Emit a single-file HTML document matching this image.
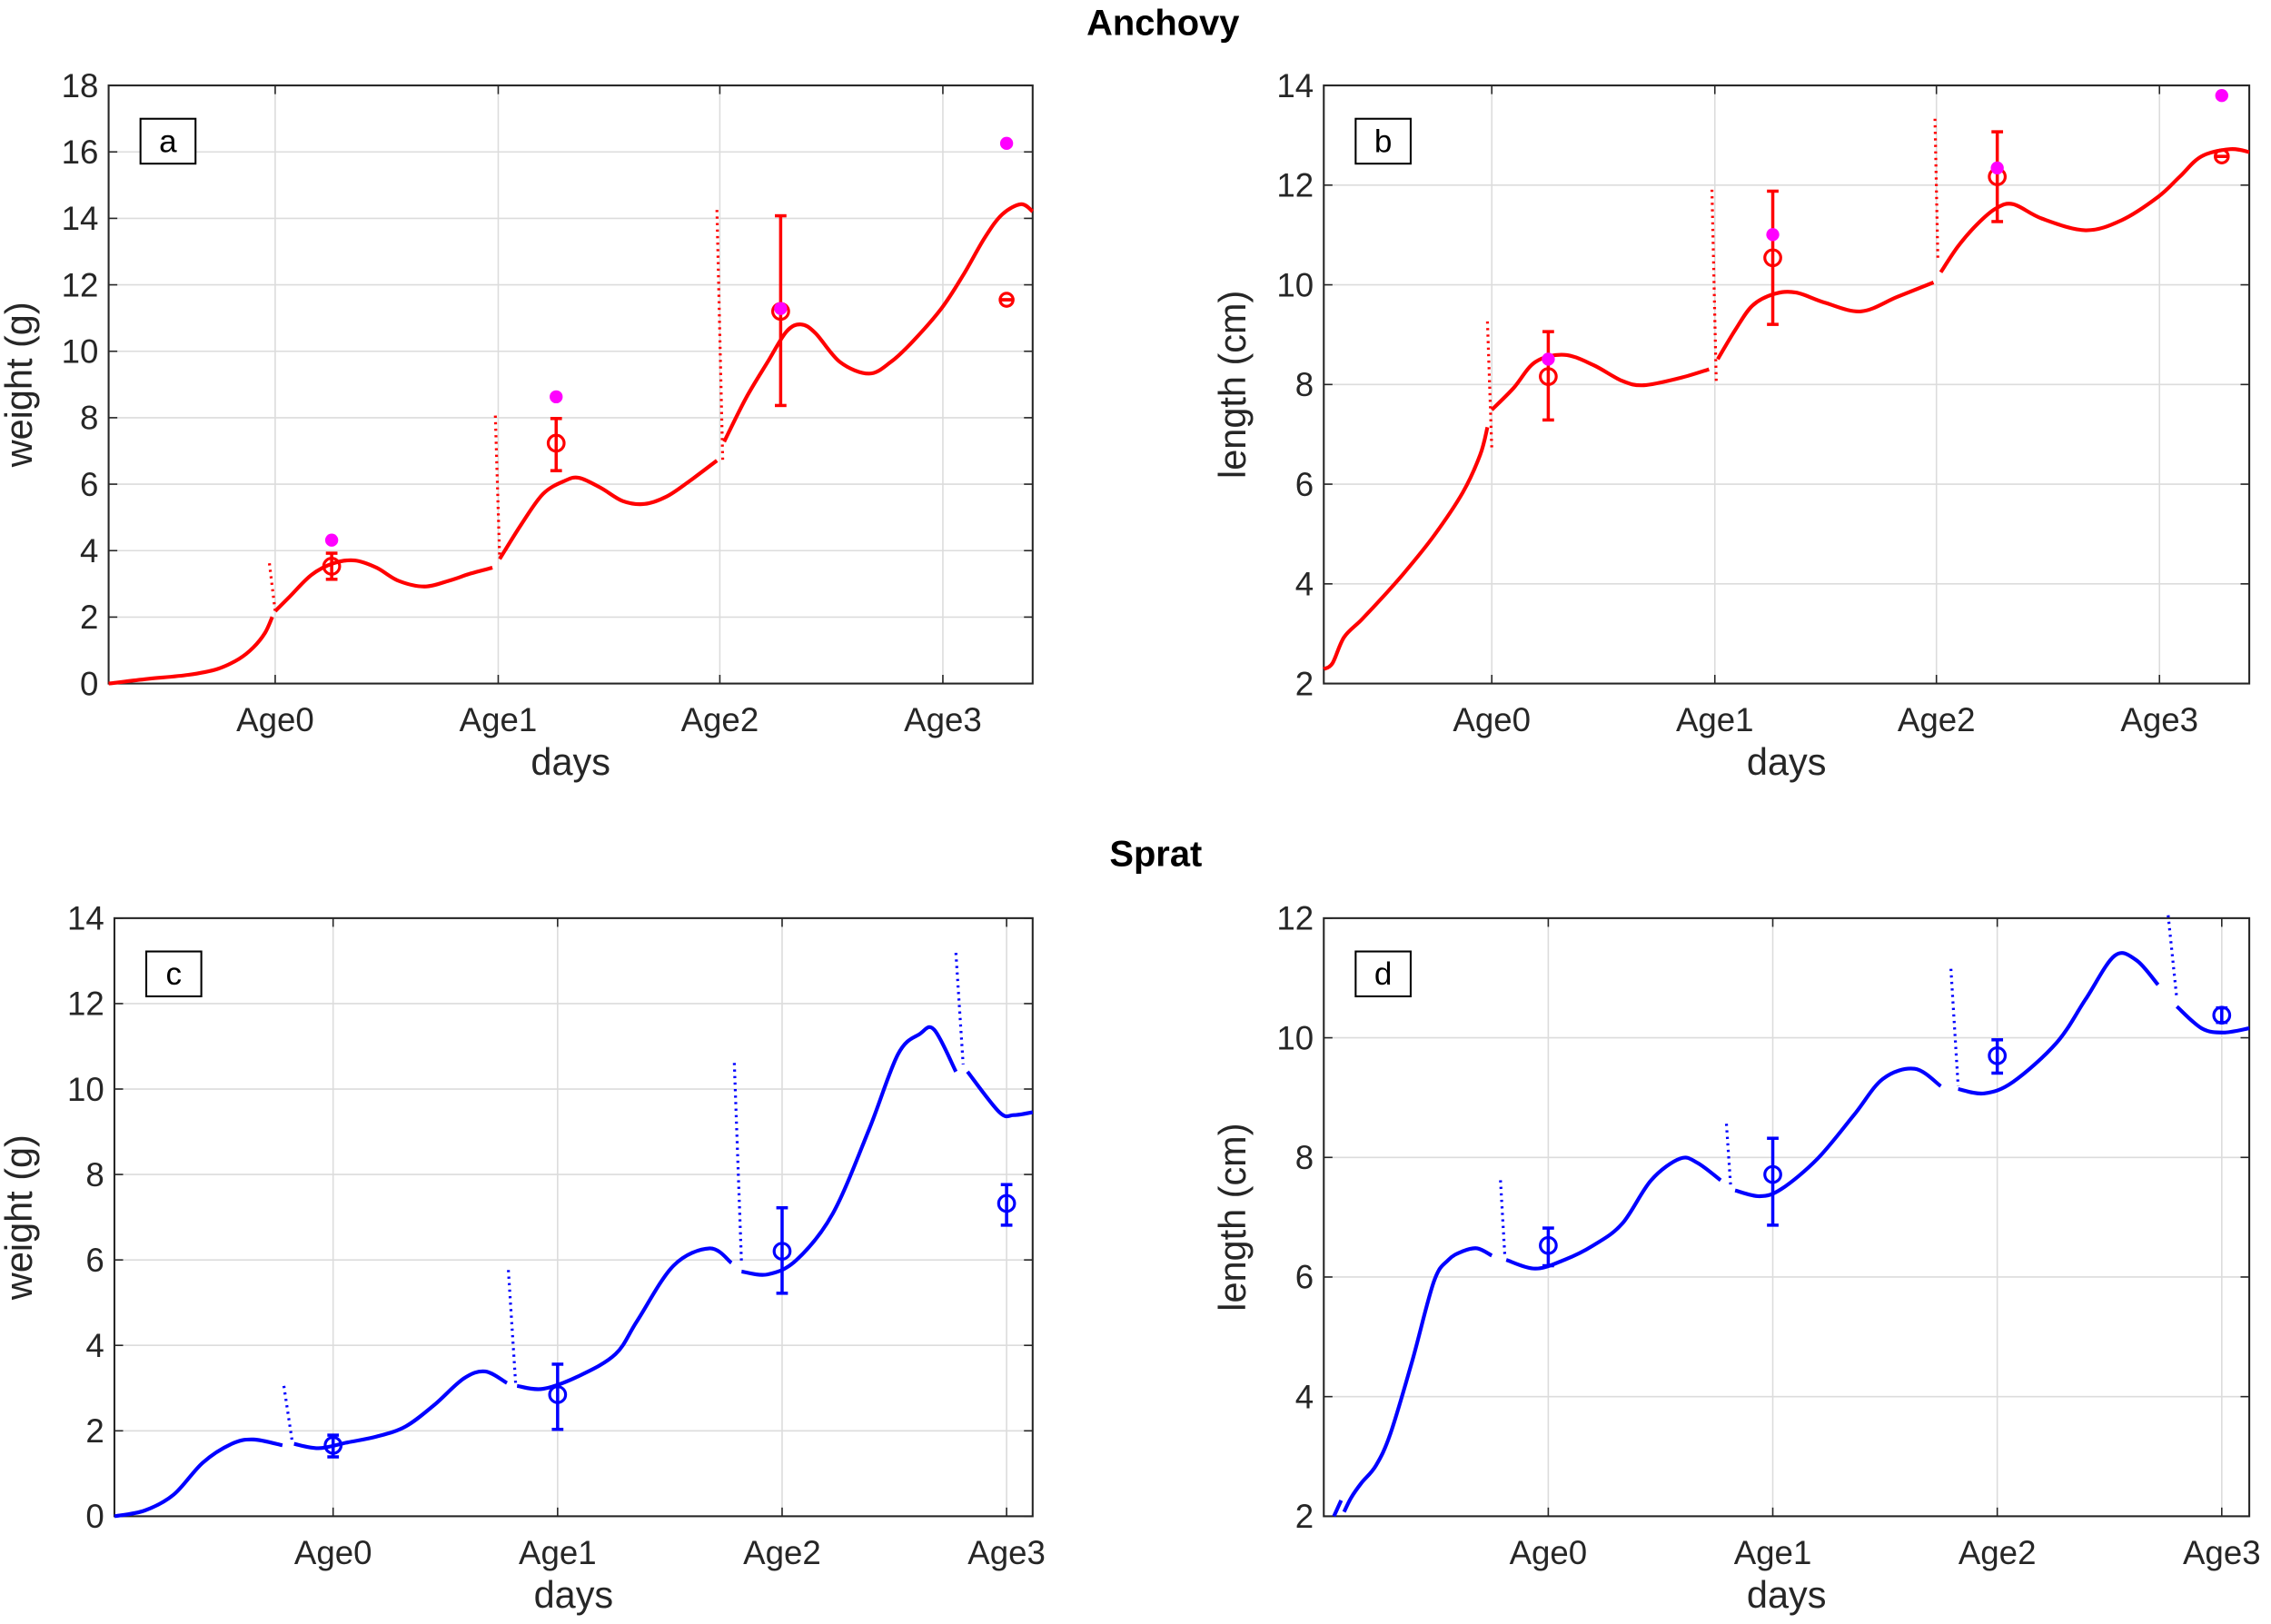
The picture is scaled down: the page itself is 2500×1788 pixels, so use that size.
<!DOCTYPE html>
<html><head><meta charset="utf-8"><style>
html,body{margin:0;padding:0;background:#fff;width:2500px;height:1788px;overflow:hidden}
svg{display:block}
text{font-family:"Liberation Sans",sans-serif;fill:#262626}
</style></head><body>
<svg id="s" width="2500" height="1788" viewBox="0 0 1568 1121.4" preserveAspectRatio="none" xmlns="http://www.w3.org/2000/svg"></svg>
<script>
const s=document.getElementById('s');let h='';
function P(o){
 const {x0,x1,y0,y1,vmin,vmax,step,ages,lab,yl,ylx}=o;
 for(let v=vmin;v<=vmax+1e-9;v+=step){const y=y1-(v-vmin)/(vmax-vmin)*(y1-y0);
  h+=`<line x1="${x0}" x2="${x1}" y1="${y}" y2="${y}" stroke="#dcdcdc" stroke-width="1"/>`;
  h+=`<line x1="${x0}" x2="${x0+6}" y1="${y}" y2="${y}" stroke="#262626"/><line x1="${x1}" x2="${x1-6}" y1="${y}" y2="${y}" stroke="#262626"/>`;
  h+=`<text x="${x0-7}" y="${y+8}" font-size="23" text-anchor="end">${v}</text>`;}
 ages.forEach((a,i)=>{h+=`<line x1="${a}" x2="${a}" y1="${y0}" y2="${y1}" stroke="#dcdcdc"/>`;
  h+=`<line x1="${a}" x2="${a}" y1="${y1}" y2="${y1-6}" stroke="#262626"/><line x1="${a}" x2="${a}" y1="${y0}" y2="${y0+6}" stroke="#262626"/>`;
  h+=`<text x="${a}" y="${y1+33}" font-size="23" text-anchor="middle">Age${i}</text>`;});
 h+=`<rect x="${x0}" y="${y0}" width="${x1-x0}" height="${y1-y0}" fill="none" stroke="#262626" stroke-width="1.3"/>`;
 h+=`<text x="${(x0+x1)/2}" y="${y1+63}" font-size="26" text-anchor="middle">days</text>`;
 h+=`<text transform="translate(${ylx},${(y0+y1)/2}) rotate(-90)" font-size="26" text-anchor="middle">${yl}</text>`;
 h+=`<rect x="${x0+22}" y="${y0+23}" width="38" height="31" fill="#fff" stroke="#000" stroke-width="1.3"/><text x="${x0+41}" y="${y0+46}" font-size="22" text-anchor="middle" style="fill:#000">${lab}</text>`;
}
P({x0:75,x1:713,y0:59,y1:472,vmin:0,vmax:18,step:2,ages:[190,344,497,651],lab:'a',yl:'weight (g)',ylx:22});
P({x0:914,x1:1553,y0:59,y1:472,vmin:2,vmax:14,step:2,ages:[1030,1184,1337,1491],lab:'b',yl:'length (cm)',ylx:860});
P({x0:79,x1:713,y0:634,y1:1047,vmin:0,vmax:14,step:2,ages:[230,385,540,695],lab:'c',yl:'weight (g)',ylx:22});
P({x0:914,x1:1553,y0:634,y1:1047,vmin:2,vmax:12,step:2,ages:[1069,1224,1379,1534],lab:'d',yl:'length (cm)',ylx:860});
h+=`<text x="803" y="24" font-size="25" font-weight="bold" text-anchor="middle" style="fill:#000">Anchovy</text>`;
h+=`<text x="798" y="598" font-size="25" font-weight="bold" text-anchor="middle" style="fill:#000">Sprat</text>`;
function L(str,c){const p=str.trim().split(/\s+/).map(q=>q.split(',').map(Number));
 let d=`M${p[0][0]},${p[0][1]}`;
 for(let i=0;i<p.length-1;i++){const a=p[Math.max(0,i-1)],b=p[i],e=p[i+1],f=p[Math.min(p.length-1,i+2)];
  const c1=[b[0]+(e[0]-a[0])/6,b[1]+(e[1]-a[1])/6],c2=[e[0]-(f[0]-b[0])/6,e[1]-(f[1]-b[1])/6];
  d+=` C${c1[0]},${c1[1]} ${c2[0]},${c2[1]} ${e[0]},${e[1]}`;}
 h+=`<path d="${d}" fill="none" stroke="${c}" stroke-width="2.6" stroke-linejoin="round"/>`;}
function D(xa,ya,xb,yb,c){h+=`<line x1="${xa}" y1="${ya}" x2="${xb}" y2="${yb}" stroke="${c}" stroke-width="2" stroke-dasharray="1.5 3"/>`;}
function E(x,y,a,b,c,r){h+=`<line x1="${x}" x2="${x}" y1="${a}" y2="${b}" stroke="${c}" stroke-width="2.2"/><line x1="${x-4}" x2="${x+4}" y1="${a}" y2="${a}" stroke="${c}" stroke-width="2.2"/><line x1="${x-4}" x2="${x+4}" y1="${b}" y2="${b}" stroke="${c}" stroke-width="2.2"/><circle cx="${x}" cy="${y}" r="${r||5.5}" fill="none" stroke="${c}" stroke-width="2"/>`;}
function M(x,y){h+=`<circle cx="${x}" cy="${y}" r="4.5" fill="#ff00ff"/>`;}
const R='#ff0000',B='#0000ff';
L("75,472 100,469 130,466 150,462 165,455 175,447 183,437 188,426",R);
L("190,422 200,412 215,397 230,389 245,387 260,392 275,401 293,405 310,401 325,396 340,392",R);
L("345,386 360,362 375,341 390,332 400,330 415,337 430,346 445,348 460,343 475,333 495,318",R);
L("500,305 515,275 530,250 543,229 553,224 563,230 580,250 600,258 615,250 630,236 650,213 665,190 680,164 692,148 705,141 713,146",R);
D(186,389,190,422,R);D(342,287,345,386,R);D(495,145,499,318,R);
E(229,391,382,400,R);M(229,373);E(384,306,289,325,R);M(384,274);E(539,215,149,280,R);M(539,213);
E(695,207,207,207,R,4.5);M(695,99);
L("914,462 920,458 928,440 940,428 955,412 970,395 990,370 1010,340 1022,314 1027,295",R);
L("1030,283 1045,268 1060,250 1080,245 1100,252 1120,263 1135,266 1160,261 1180,255",R);
L("1186,248 1198,228 1210,211 1225,203 1240,202 1260,209 1285,215 1310,205 1335,195",R);
L("1340,188 1352,170 1365,155 1378,144 1390,141 1410,151 1440,159 1465,152 1490,136 1505,122 1520,108 1540,103 1553,105",R);
D(1027,222,1030,310,R);D(1182,131,1185,265,R);D(1336,82,1338,180,R);
E(1069,260,229,290,R);M(1069,248);E(1224,178,132,224,R);M(1224,162);E(1379,122,91,153,R);M(1379,116);
E(1534,108,108,108,R,4.5);M(1534,66);
L("79,1047 100,1043 120,1032 140,1010 160,997 175,994 195,998",B);
L("203,997 220,1000 240,996 260,992 280,985 300,970 320,952 335,947 350,955",B);
L("357,957 375,959 400,950 425,935 440,912 465,874 490,862 505,872",B);
L("512,878 530,880 550,870 575,838 600,780 620,728 635,714 645,711 660,740",B);
L("668,740 690,768 700,770 713,768",B);
D(196,957,202,997,B);D(351,877,356,955,B);D(507,734,512,873,B);D(660,658,665,735,B);
E(230,998,991,1006,B);E(385,963,942,987,B);E(540,864,834,893,B);E(695,831,818,846,B);
L("921,1047 926,1036",B);
L("928,1044 933,1034 940,1024 950,1012 960,990 975,940 990,885 1000,870 1010,864 1020,862 1030,867",B);
L("1040,870 1060,876 1080,870 1100,860 1120,845 1140,815 1160,800 1172,803 1188,815",B);
L("1198,822 1215,826 1230,821 1255,800 1280,770 1300,745 1322,738 1340,750",B);
L("1352,752 1370,755 1390,747 1420,720 1440,690 1460,660 1475,663 1490,680",B);
L("1503,695 1520,710 1535,713 1553,710",B);
D(1036,815,1039,867,B);D(1192,776,1195,820,B);D(1347,669,1352,750,B);D(1497,632,1503,690,B);
E(1069,860,848,874,B);E(1224,811,786,846,B);E(1379,729,718,741,B);E(1534,701,696,706,B);
s.innerHTML=h;
</script>
</body></html>
